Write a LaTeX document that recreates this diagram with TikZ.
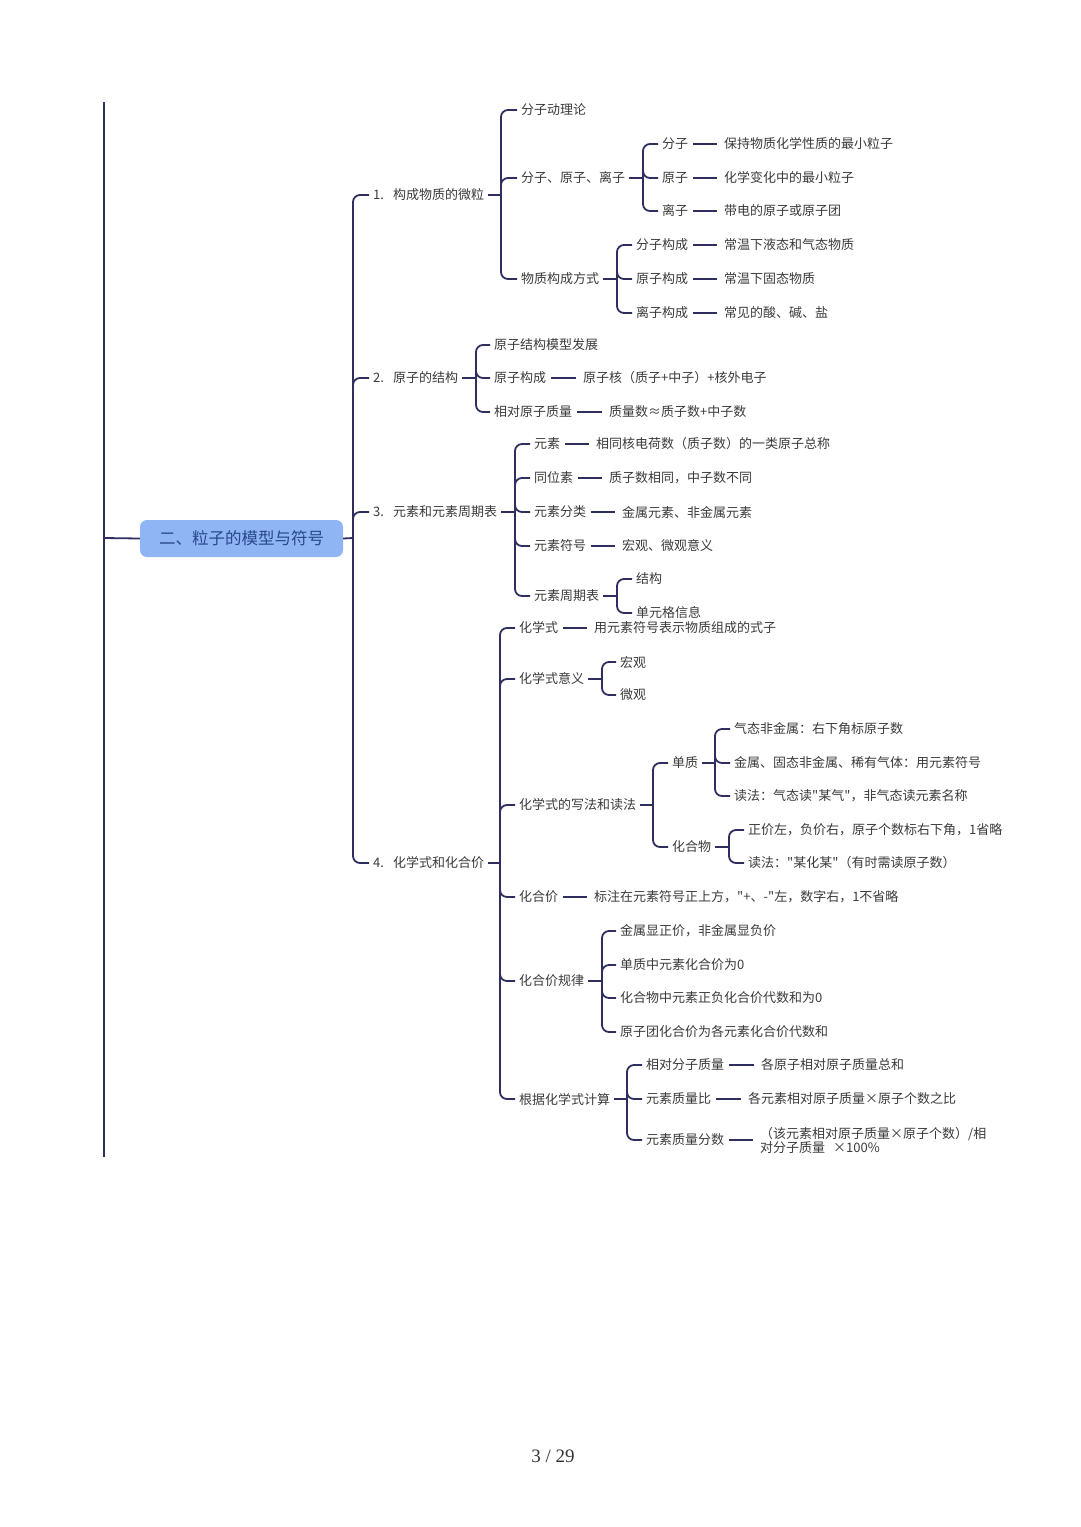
\documentclass[tikz,border=0pt]{standalone}
\usepackage{fontspec}
\usepackage{xcolor}
\usepackage{tikz}
\usetikzlibrary{positioning}
\newfontfamily\cjk{Noto Sans CJK SC}
\newfontfamily\pagefont{Liberation Serif}
\definecolor{linenavy}{RGB}{46,47,94}
\definecolor{txtgray}{RGB}{58,58,58}
\definecolor{rootblue}{RGB}{143,181,245}
\definecolor{roottext}{RGB}{40,72,140}
\begin{document}
\begin{tikzpicture}[
        x=1pt, y=-1pt,
        leaf/.style={anchor=west, inner xsep=4pt, inner ysep=2pt, text=txtgray,
                     font=\cjk\fontsize{13}{14}\selectfont},
        rootbox/.style={fill=rootblue, rounded corners=7pt, minimum width=203pt,
                        minimum height=37pt, inner sep=0pt, text=roottext,
                        font=\cjk\fontsize{16.5}{18}\selectfont},
        conn/.style={draw=linenavy, line width=1.8pt, rounded corners=7pt},
        dashln/.style={draw=linenavy, line width=1.6pt, shorten <=1pt, shorten >=3pt},
    ]
        \useasboundingbox (0,0) rectangle (1080,1527);

        % 左侧竖线与中心主题
        \coordinate (top) at (104,102);
        \coordinate (bot) at (104,1157);
        \coordinate (m0) at (104,538);
        \draw[conn] (top) -- (bot);
        \node[rootbox] (root) at (241.5,538.5) {二、粒子的模型与符号};
        \draw[conn] (m0) -- (root.west);

        % 一级分支
        \coordinate (s0) at (353,538);
        \node[leaf] (n1) at (369,195) {1.\hspace{9pt}构成物质的微粒};
        \node[leaf] (n2) at (369,378) {2.\hspace{9pt}原子的结构};
        \node[leaf] (n3) at (369,512) {3.\hspace{9pt}元素和元素周期表};
        \node[leaf] (n4) at (369,863) {4.\hspace{9pt}化学式和化合价};
        \draw[conn] (root.east) -- (s0);
        \draw[conn] (s0) |- (n1.west);
        \draw[conn] (s0) |- (n2.west);
        \draw[conn] (s0) |- (n3.west);
        \draw[conn] (s0) |- (n4.west);

        % 1. 构成物质的微粒
        \coordinate (s1) at (501,195);
        \node[leaf] (n11) at (517,110) {分子动理论};
        \node[leaf] (n12) at (517,178) {分子、原子、离子};
        \node[leaf] (n13) at (517,279) {物质构成方式};
        \draw[conn] (n1.east) -- (s1);
        \draw[conn] (s1) |- (n11.west);
        \draw[conn] (s1) |- (n12.west);
        \draw[conn] (s1) |- (n13.west);

        \coordinate (s12) at (643,178);
        \node[leaf] (n121) at (658,144) {分子};
        \node[leaf] (n122) at (658,178) {原子};
        \node[leaf] (n123) at (658,211) {离子};
        \node[leaf] (n121d) at (720,144) {保持物质化学性质的最小粒子};
        \node[leaf] (n122d) at (720,178) {化学变化中的最小粒子};
        \node[leaf] (n123d) at (720,211) {带电的原子或原子团};
        \draw[conn] (n12.east) -- (s12);
        \draw[conn] (s12) |- (n121.west);
        \draw[conn] (s12) |- (n122.west);
        \draw[conn] (s12) |- (n123.west);
        \draw[dashln] (n121.east) -- (n121d.west);
        \draw[dashln] (n122.east) -- (n122d.west);
        \draw[dashln] (n123.east) -- (n123d.west);

        \coordinate (s13) at (617,279);
        \node[leaf] (n131) at (632,245) {分子构成};
        \node[leaf] (n132) at (632,279) {原子构成};
        \node[leaf] (n133) at (632,313) {离子构成};
        \node[leaf] (n131d) at (720,245) {常温下液态和气态物质};
        \node[leaf] (n132d) at (720,279) {常温下固态物质};
        \node[leaf] (n133d) at (720,313) {常见的酸、碱、盐};
        \draw[conn] (n13.east) -- (s13);
        \draw[conn] (s13) |- (n131.west);
        \draw[conn] (s13) |- (n132.west);
        \draw[conn] (s13) |- (n133.west);
        \draw[dashln] (n131.east) -- (n131d.west);
        \draw[dashln] (n132.east) -- (n132d.west);
        \draw[dashln] (n133.east) -- (n133d.west);

        % 2. 原子的结构
        \coordinate (s2) at (476,378);
        \node[leaf] (n21) at (490,345) {原子结构模型发展};
        \node[leaf] (n22) at (490,378) {原子构成};
        \node[leaf] (n23) at (490,412) {相对原子质量};
        \node[leaf] (n22d) at (579,378) {原子核（质子+中子）+核外电子};
        \node[leaf] (n23d) at (605,412) {质量数≈质子数+中子数};
        \draw[conn] (n2.east) -- (s2);
        \draw[conn] (s2) |- (n21.west);
        \draw[conn] (s2) |- (n22.west);
        \draw[conn] (s2) |- (n23.west);
        \draw[dashln] (n22.east) -- (n22d.west);
        \draw[dashln] (n23.east) -- (n23d.west);

        % 3. 元素和元素周期表
        \coordinate (s3) at (515,512);
        \node[leaf] (n31) at (530,444) {元素};
        \node[leaf] (n32) at (530,478) {同位素};
        \node[leaf] (n33) at (530,512) {元素分类};
        \node[leaf] (n34) at (530,546) {元素符号};
        \node[leaf] (n35) at (530,596) {元素周期表};
        \node[leaf] (n31d) at (592,444) {相同核电荷数（质子数）的一类原子总称};
        \node[leaf] (n32d) at (605,478) {质子数相同，中子数不同};
        \node[leaf] (n33d) at (618,512) {金属元素、非金属元素};
        \node[leaf] (n34d) at (618,546) {宏观、微观意义};
        \draw[conn] (n3.east) -- (s3);
        \draw[conn] (s3) |- (n31.west);
        \draw[conn] (s3) |- (n32.west);
        \draw[conn] (s3) |- (n33.west);
        \draw[conn] (s3) |- (n34.west);
        \draw[conn] (s3) |- (n35.west);
        \draw[dashln] (n31.east) -- (n31d.west);
        \draw[dashln] (n32.east) -- (n32d.west);
        \draw[dashln] (n33.east) -- (n33d.west);
        \draw[dashln] (n34.east) -- (n34d.west);

        \coordinate (s35) at (617,596);
        \node[leaf] (n351) at (632,579) {结构};
        \node[leaf] (n352) at (632,613) {单元格信息};
        \draw[conn] (n35.east) -- (s35);
        \draw[conn] (s35) |- (n351.west);
        \draw[conn] (s35) |- (n352.west);

        % 4. 化学式和化合价
        \coordinate (s4) at (500,863);
        \node[leaf] (n41) at (515,628) {化学式};
        \node[leaf] (n42) at (515,679) {化学式意义};
        \node[leaf] (n43) at (515,805) {化学式的写法和读法};
        \node[leaf] (n44) at (515,897) {化合价};
        \node[leaf] (n45) at (515,981) {化合价规律};
        \node[leaf] (n46) at (515,1099) {根据化学式计算};
        \node[leaf] (n41d) at (590,628) {用元素符号表示物质组成的式子};
        \node[leaf] (n44d) at (590,897) {标注在元素符号正上方，"+、-"左，数字右，1不省略};
        \draw[conn] (n4.east) -- (s4);
        \draw[conn] (s4) |- (n41.west);
        \draw[conn] (s4) |- (n42.west);
        \draw[conn] (s4) |- (n43.west);
        \draw[conn] (s4) |- (n44.west);
        \draw[conn] (s4) |- (n45.west);
        \draw[conn] (s4) |- (n46.west);
        \draw[dashln] (n41.east) -- (n41d.west);
        \draw[dashln] (n44.east) -- (n44d.west);

        % 化学式意义
        \coordinate (s42) at (602,679);
        \node[leaf] (n421) at (616,662) {宏观};
        \node[leaf] (n422) at (616,695) {微观};
        \draw[conn] (n42.east) -- (s42);
        \draw[conn] (s42) |- (n421.west);
        \draw[conn] (s42) |- (n422.west);

        % 写法和读法
        \coordinate (s43) at (653,805);
        \node[leaf] (n431) at (668,763) {单质};
        \node[leaf] (n432) at (668,847) {化合物};
        \draw[conn] (n43.east) -- (s43);
        \draw[conn] (s43) |- (n431.west);
        \draw[conn] (s43) |- (n432.west);

        \coordinate (s431) at (715,763);
        \node[leaf] (n4311) at (730,729) {气态非金属：右下角标原子数};
        \node[leaf] (n4312) at (730,763) {金属、固态非金属、稀有气体：用元素符号};
        \node[leaf] (n4313) at (730,796) {读法：气态读"某气"，非气态读元素名称};
        \draw[conn] (n431.east) -- (s431);
        \draw[conn] (s431) |- (n4311.west);
        \draw[conn] (s431) |- (n4312.west);
        \draw[conn] (s431) |- (n4313.west);

        \coordinate (s432) at (729,847);
        \node[leaf] (n4321) at (744,830) {正价左，负价右，原子个数标右下角，1省略};
        \node[leaf] (n4322) at (744,863) {读法："某化某"（有时需读原子数）};
        \draw[conn] (n432.east) -- (s432);
        \draw[conn] (s432) |- (n4321.west);
        \draw[conn] (s432) |- (n4322.west);

        % 化合价规律
        \coordinate (s45) at (602,981);
        \node[leaf] (n451) at (616,931) {金属显正价，非金属显负价};
        \node[leaf] (n452) at (616,965) {单质中元素化合价为0};
        \node[leaf] (n453) at (616,998) {化合物中元素正负化合价代数和为0};
        \node[leaf] (n454) at (616,1032) {原子团化合价为各元素化合价代数和};
        \draw[conn] (n45.east) -- (s45);
        \draw[conn] (s45) |- (n451.west);
        \draw[conn] (s45) |- (n452.west);
        \draw[conn] (s45) |- (n453.west);
        \draw[conn] (s45) |- (n454.west);

        % 根据化学式计算
        \coordinate (s46) at (627,1099);
        \node[leaf] (n461) at (642,1065) {相对分子质量};
        \node[leaf] (n462) at (642,1099) {元素质量比};
        \node[leaf] (n463) at (642,1140) {元素质量分数};
        \node[leaf] (n461d) at (757,1065) {各原子相对原子质量总和};
        \node[leaf] (n462d) at (744,1099) {各元素相对原子质量×原子个数之比};
        \node[leaf, align=left] (n463d) at (756,1140) {（该元素相对原子质量×原子个数）/相\\对分子质量\hspace{8pt}×100\%};
        \draw[conn] (n46.east) -- (s46);
        \draw[conn] (s46) |- (n461.west);
        \draw[conn] (s46) |- (n462.west);
        \draw[conn] (s46) |- (n463.west);
        \draw[dashln] (n461.east) -- (n461d.west);
        \draw[dashln] (n462.east) -- (n462d.west);
        \draw[dashln] (n463.east) -- (n463d.west);

        % 页码
        \node[font=\pagefont\fontsize{19}{21}\selectfont, text=black!80] (pageno) at (553,1456) {3 / 29};
    \end{tikzpicture}
\end{document}
